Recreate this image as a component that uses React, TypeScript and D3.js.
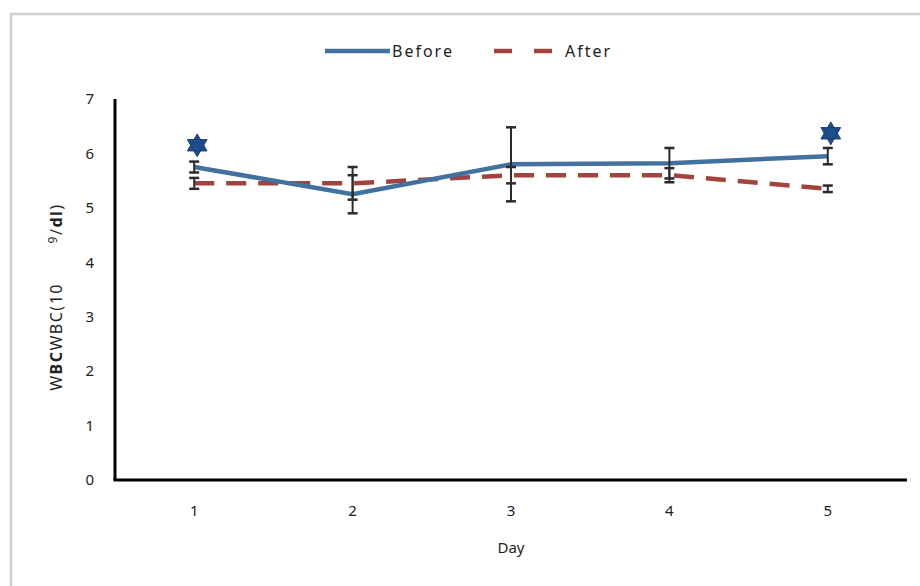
import React, { useRef, useEffect } from 'react';
import * as d3 from 'd3';

// chart data
const days = [1, 2, 3, 4, 5];
const before = [5.75, 5.25, 5.8, 5.82, 5.95];
const beforeErr = [0.1, 0.35, 0.68, 0.28, 0.15];
const after = [5.45, 5.45, 5.6, 5.6, 5.35];
const afterErr = [0.1, 0.3, 0.15, 0.13, 0.06];
const starDays = [1, 5];
const starValues = [6.15, 6.37];
const yTicks = [0, 1, 2, 3, 4, 5, 6, 7];

const BLUE = '#41729f';
const RED = '#a3433d';
const FONT = '"Noto Sans", "Open Sans", sans-serif';

// six-pointed star made of two triangles
const hexagram = {
  draw(context: any, size: number) {
    const r = Math.sqrt(size) * 0.75;
    for (let t = 0; t < 2; t++) {
      for (let i = 0; i < 3; i++) {
        const a = -Math.PI / 2 + t * Math.PI + (i * 2 * Math.PI) / 3;
        const x = r * Math.cos(a);
        const y = r * Math.sin(a);
        if (i === 0) context.moveTo(x, y);
        else context.lineTo(x, y);
      }
      context.closePath();
    }
  },
};

const LineChart = () => {
  const svgRef = useRef(null);

  useEffect(() => {
    const svg = d3.select(svgRef.current);
    svg.selectAll('*').remove();

    const width = 920;
    const height = 586;
    const margin = { top: 99, right: 13, bottom: 106, left: 115 };
    const chartWidth = width - margin.left - margin.right;
    const chartHeight = height - margin.top - margin.bottom;

    // outer frame (only top and left edges are visible)
    svg
      .append('rect')
      .attr('x', 11)
      .attr('y', 14)
      .attr('width', 1000)
      .attr('height', 1000)
      .attr('fill', 'none')
      .attr('stroke', '#cfcfcf')
      .attr('stroke-width', 2.5);

    const g = svg.append('g').attr('transform', `translate(${margin.left},${margin.top})`);

    const xScale = d3.scalePoint<number>().domain(days).range([0, chartWidth]).padding(0.5);
    const yScale = d3.scaleLinear().domain([0, 7]).range([chartHeight, 0]);

    // y tick labels
    g.selectAll('.ytick')
      .data(yTicks)
      .enter()
      .append('text')
      .attr('x', -21)
      .attr('y', (d) => yScale(d))
      .attr('dy', '0.35em')
      .attr('text-anchor', 'end')
      .attr('font-family', FONT)
      .attr('font-size', 15)
      .attr('fill', '#222')
      .text((d) => d);

    // x tick labels
    g.selectAll('.xtick')
      .data(days)
      .enter()
      .append('text')
      .attr('x', (d) => xScale(d) as number)
      .attr('y', chartHeight + 31)
      .attr('dy', '0.35em')
      .attr('text-anchor', 'middle')
      .attr('font-family', FONT)
      .attr('font-size', 15)
      .attr('fill', '#222')
      .text((d) => d);

    // axes
    g.append('line')
      .attr('x1', 0).attr('x2', 0)
      .attr('y1', 0).attr('y2', chartHeight)
      .attr('stroke', '#000').attr('stroke-width', 3);
    g.append('line')
      .attr('x1', -1.5).attr('x2', chartWidth)
      .attr('y1', chartHeight).attr('y2', chartHeight)
      .attr('stroke', '#000').attr('stroke-width', 3);

    // axis titles
    g.append('text')
      .attr('x', chartWidth / 2)
      .attr('y', chartHeight + 68)
      .attr('dy', '0.35em')
      .attr('text-anchor', 'middle')
      .attr('font-family', FONT)
      .attr('font-size', 15)
      .attr('fill', '#222')
      .text('Day');

    const yTitle = svg
      .append('text')
      .attr('transform', `translate(62,${margin.top + chartHeight * 0.52}) rotate(-90)`)
      .attr('text-anchor', 'middle')
      .attr('font-family', FONT)
      .attr('font-size', 16)
      .attr('letter-spacing', 1.5)
      .attr('fill', '#222');
    yTitle.append('tspan').text('W');
    yTitle.append('tspan').attr('font-weight', 'bold').text('BC');
    yTitle.append('tspan').text('WBC(10\u00a0\u00a0\u00a0\u00a0\u00a0\u00a0\u00a0');
    yTitle.append('tspan').attr('font-size', 12).attr('dy', -5).text('9');
    yTitle.append('tspan').attr('dy', 5).text('/');
    yTitle.append('tspan').attr('font-weight', 'bold').text('dl');
    yTitle.append('tspan').text(')');

    const line = d3
      .line<number>()
      .x((_, i) => xScale(days[i]) as number)
      .y((d) => yScale(d));

    // after series (dashed)
    g.append('path')
      .datum(after)
      .attr('fill', 'none')
      .attr('stroke', RED)
      .attr('stroke-width', 4.5)
      .attr('stroke-dasharray', '20 12')
      .attr('d', line);

    // before series
    g.append('path')
      .datum(before)
      .attr('fill', 'none')
      .attr('stroke', BLUE)
      .attr('stroke-width', 4.5)
      .attr('d', line);

    // error bars
    const drawErr = (vals: number[], errs: number[]) => {
      const eb = g.selectAll(null).data(vals).enter().append('g').attr('stroke', '#2b2b2b').attr('stroke-width', 2);
      eb.append('line')
        .attr('x1', (_, i) => xScale(days[i]) as number)
        .attr('x2', (_, i) => xScale(days[i]) as number)
        .attr('y1', (d, i) => yScale(d + errs[i]))
        .attr('y2', (d, i) => yScale(d - errs[i]));
      [1, -1].forEach((s) => {
        eb.append('line')
          .attr('x1', (_, i) => (xScale(days[i]) as number) - 5)
          .attr('x2', (_, i) => (xScale(days[i]) as number) + 5)
          .attr('y1', (d, i) => yScale(d + s * errs[i]))
          .attr('y2', (d, i) => yScale(d + s * errs[i]))
          .attr('stroke-width', 2.5);
      });
    };
    drawErr(before, beforeErr);
    drawErr(after, afterErr);

    // significance stars
    g.selectAll('.star')
      .data(starValues)
      .enter()
      .append('path')
      .attr('transform', (d, i) => `translate(${(xScale(starDays[i]) as number) + 3},${yScale(d)})`)
      .attr('d', d3.symbol().type(hexagram as any).size(230)())
      .attr('fill', '#1d4f8f')
      .attr('stroke', '#1a3f73')
      .attr('stroke-width', 1);

    // legend
    const legend = svg.append('g').attr('transform', 'translate(0,51)');
    legend.append('line')
      .attr('x1', 325).attr('x2', 390).attr('y1', 0).attr('y2', 0)
      .attr('stroke', BLUE).attr('stroke-width', 4.5);
    legend.append('text')
      .attr('x', 392).attr('y', 0).attr('dy', '0.35em')
      .attr('font-family', FONT).attr('font-size', 16).attr('letter-spacing', 2).attr('fill', '#222')
      .text('Before');
    legend.append('line')
      .attr('x1', 494).attr('x2', 552).attr('y1', 0).attr('y2', 0)
      .attr('stroke', RED).attr('stroke-width', 4.5)
      .attr('stroke-dasharray', '18 22');
    legend.append('text')
      .attr('x', 565).attr('y', 0).attr('dy', '0.35em')
      .attr('font-family', FONT).attr('font-size', 16).attr('letter-spacing', 2).attr('fill', '#222')
      .text('After');
  }, []);

  return (
    <svg
      ref={svgRef}
      width={920}
      height={586}
      style={{ position: 'absolute', left: 0, top: 0, background: '#fff' }}
    ></svg>
  );
};

export default function App() {
  return <LineChart />;
}
